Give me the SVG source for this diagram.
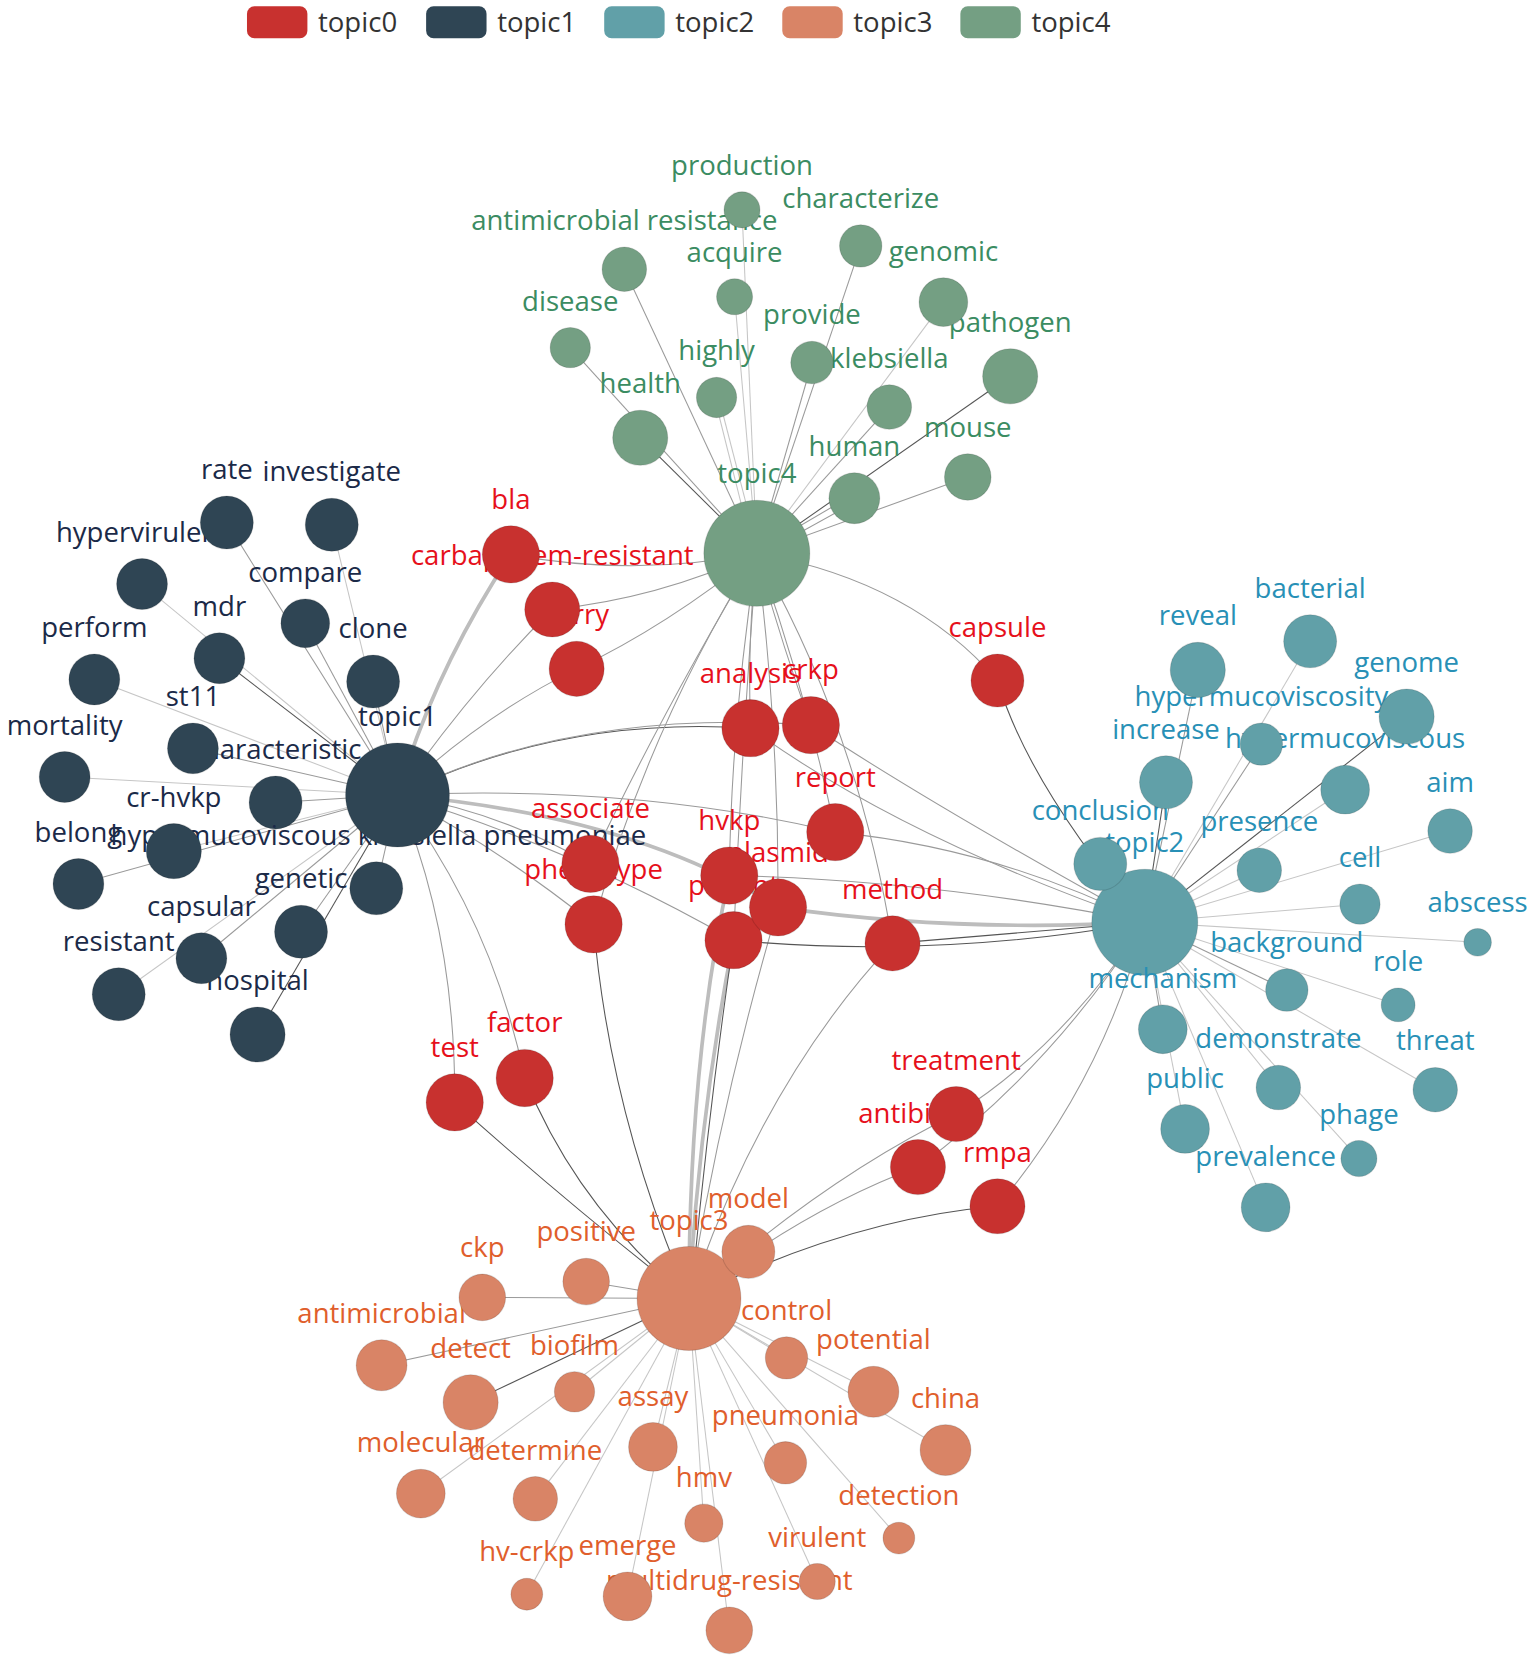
<svg xmlns="http://www.w3.org/2000/svg" width="1535" height="1662" viewBox="0 0 1535 1662">
<style>
text{font-family:"Open Sans","Noto Sans","DejaVu Sans",sans-serif;font-size:26px;text-anchor:middle}
.lg text{text-anchor:start;fill:#333}
.e path{fill:none;stroke:#9a9a9a;stroke-width:1}
.e .l{stroke:#c6c6c6}
.e .d{stroke:#555}
.e .t{stroke:#bdbdbd;stroke-width:3.5}
circle{stroke:rgba(0,0,0,0.13);stroke-width:1}
.c0 circle{fill:#c8312f}.c0 text{fill:#e6101b}
.c1 circle{fill:#2f4554}.c1 text{fill:#1b2a48}
.c2 circle{fill:#61a0a8}.c2 text{fill:#2890b6}
.c3 circle{fill:#d98466}.c3 text{fill:#e05e2c}
.c4 circle{fill:#749f83}.c4 text{fill:#3b8c62}
</style>
<rect width="1535" height="1662" fill="#fff"/>
<g transform="scale(1.06)">
<g class="lg" id="legend">
<rect x="233" y="6" width="57" height="30" rx="7" fill="#c8312f"/><text x="300" y="30">topic0</text>
<rect x="402" y="6" width="57" height="30" rx="7" fill="#2f4554"/><text x="469" y="30">topic1</text>
<rect x="570" y="6" width="57" height="30" rx="7" fill="#61a0a8"/><text x="637" y="30">topic2</text>
<rect x="738" y="6" width="57" height="30" rx="7" fill="#d98466"/><text x="805" y="30">topic3</text>
<rect x="906" y="6" width="57" height="30" rx="7" fill="#749f83"/><text x="973" y="30">topic4</text>
</g>
<g class="e" id="connectors">
<!-- topic4 -->
<path class="l" d="M714,522 L700,198"/>
<path class="l" d="M714,522 L693,280"/>
<path d="M714,522 L812,232"/>
<path d="M714,522 L589,254"/>
<path class="l" d="M714,522 L890,285"/>
<path d="M714,522 L538,328"/>
<path d="M714,522 L766,342"/>
<path class="d" d="M714,522 L953,355"/>
<path class="l" d="M716,522 L678,375"/>
<path class="l" d="M711,522 L674,375"/>
<path d="M714,522 L839,384"/>
<path class="d" d="M714,522 L604,413"/>
<path d="M714,522 L913,450"/>
<path d="M714,520 L806,466"/>
<path d="M714,525 L806,474"/>
<!-- topic1 -->
<path d="M375,750 L214,493"/>
<path class="l" d="M375,750 L313,495"/>
<path class="l" d="M375,750 L134,551"/>
<path d="M375,750 L288,588"/>
<path class="d" d="M375,750 L207,621"/>
<path d="M375,750 L352,643"/>
<path class="l" d="M375,750 L89,641"/>
<path d="M375,750 L182,706"/>
<path class="l" d="M375,750 L61,733"/>
<path d="M375,750 L260,757"/>
<path class="l" d="M375,750 L164,803"/>
<path d="M375,750 L74,834"/>
<path d="M375,750 L355,838"/>
<path d="M375,750 L190,904"/>
<path d="M375,750 L284,879"/>
<path class="l" d="M375,750 L112,938"/>
<path class="d" d="M375,750 L243,976"/>
<!-- topic2 -->
<path d="M1080,870 L1130,632"/>
<path class="l" d="M1080,870 L1236,605"/>
<path class="d" d="M1080,870 L1327,676"/>
<path d="M1080,870 L1190,702"/>
<path class="d" d="M1080,870 L1100,738"/>
<path class="l" d="M1080,870 L1269,745"/>
<path d="M1080,870 L1038,815"/>
<path class="l" d="M1080,870 L1188,821"/>
<path class="l" d="M1080,870 L1368,784"/>
<path class="l" d="M1080,870 L1283,853"/>
<path class="l" d="M1080,870 L1394,889"/>
<path d="M1080,870 L1214,934"/>
<path class="l" d="M1080,870 L1319,948"/>
<path d="M1080,870 L1097,971"/>
<path class="l" d="M1080,870 L1206,1026"/>
<path class="l" d="M1080,870 L1354,1028"/>
<path class="l" d="M1080,870 L1118,1065"/>
<path class="l" d="M1080,870 L1282,1093"/>
<path class="l" d="M1080,870 L1194,1139"/>
<!-- topic3 -->
<path d="M650,1225 L706,1181"/>
<path d="M650,1225 L553,1209"/>
<path d="M650,1225 L455,1224"/>
<path d="M650,1225 L360,1288"/>
<path class="d" d="M650,1225 L444,1323"/>
<path class="l" d="M650,1225 L542,1313"/>
<path class="l" d="M650,1225 L742,1281"/>
<path class="l" d="M650,1225 L824,1313"/>
<path class="l" d="M650,1225 L892,1368"/>
<path class="l" d="M650,1225 L616,1365"/>
<path class="l" d="M650,1225 L741,1380"/>
<path class="l" d="M650,1225 L397,1409"/>
<path class="l" d="M650,1225 L505,1414"/>
<path class="l" d="M650,1225 L664,1437"/>
<path class="l" d="M650,1225 L848,1451"/>
<path class="l" d="M650,1225 L771,1492"/>
<path class="l" d="M650,1225 L592,1506"/>
<path class="l" d="M650,1225 L497,1504"/>
<path class="l" d="M650,1225 L688,1538"/>
<!-- topic0 cross links -->
<path class="t" d="M375,750 Q410,632 482,523"/>
<path d="M482,523 Q598,545 714,522"/>
<path d="M521,575 Q620,565 714,522"/>
<path d="M521,575 Q445,650 375,750"/>
<path d="M544,631 Q630,590 714,522"/>
<path d="M544,631 Q455,675 375,750"/>
<path d="M714,522 Q860,548 941,642"/>
<path class="d" d="M941,642 Q970,740 1080,870"/>
<path class="d" d="M375,750 Q530,675 708,687"/>
<path d="M375,750 Q540,668 765,684"/>
<path d="M708,687 Q705,600 714,522"/>
<path d="M765,684 Q735,600 714,522"/>
<path d="M708,687 Q850,790 1080,870"/>
<path d="M765,684 Q880,760 1080,870"/>
<path d="M714,522 Q760,650 788,785"/>
<path d="M788,785 Q940,800 1080,870"/>
<path d="M375,750 Q600,740 788,785"/>
<path d="M375,750 Q470,765 557,815"/>
<path d="M557,815 Q620,680 714,522"/>
<path d="M375,750 Q470,800 560,872"/>
<path d="M560,872 Q610,690 714,522"/>
<path class="d" d="M560,872 Q575,1050 650,1225"/>
<path d="M714,522 Q690,680 688,826"/>
<path class="t" d="M688,826 Q650,1000 650,1225"/>
<path d="M688,826 Q880,830 1080,870"/>
<path d="M714,522 Q735,690 734,856"/>
<path class="t" d="M375,750 Q600,770 734,856"/>
<path class="t" d="M734,856 Q900,880 1080,870"/>
<path d="M734,856 Q680,1040 650,1225"/>
<path class="t" d="M692,887 Q660,1050 650,1225"/>
<path class="d" d="M692,887 Q668,1050 652,1225"/>
<path class="d" d="M692,887 Q880,905 1080,870"/>
<path d="M375,750 Q540,800 692,887"/>
<path d="M714,522 Q700,700 692,887"/>
<path class="d" d="M842,890 Q960,880 1080,870"/>
<path d="M714,522 Q810,690 842,890"/>
<path d="M842,890 Q720,1020 650,1225"/>
<path d="M375,750 Q430,880 429,1040"/>
<path class="d" d="M429,1040 Q535,1135 650,1225"/>
<path d="M375,750 Q465,870 495,1017"/>
<path class="d" d="M495,1017 Q545,1140 650,1225"/>
<path d="M902,1051 Q1000,990 1080,870"/>
<path d="M650,1225 Q780,1110 902,1051"/>
<path d="M866,1101 Q990,1010 1080,870"/>
<path d="M650,1225 Q760,1140 866,1101"/>
<path d="M941,1138 Q1040,1020 1080,870"/>
<path class="d" d="M650,1225 Q800,1150 941,1138"/>
</g>
<!-- topic4 nodes -->
<g id="n-antimicrobial-resistance" class="c4"><text x="589" y="217">antimicrobial resistance</text><circle cx="589" cy="254" r="21"/></g>
<g id="n-production" class="c4"><text x="700" y="165">production</text><circle cx="700" cy="198" r="17"/></g>
<g id="n-pathogen" class="c4"><text x="953" y="313">pathogen</text><circle cx="953" cy="355" r="26"/></g>
<g id="n-genomic" class="c4"><text x="890" y="246">genomic</text><circle cx="890" cy="285" r="23"/></g>
<g id="n-klebsiella" class="c4"><text x="839" y="347">klebsiella</text><circle cx="839" cy="384" r="21"/></g>
<g id="n-provide" class="c4"><text x="766" y="306">provide</text><circle cx="766" cy="342" r="20"/></g>
<g id="n-characterize" class="c4"><text x="812" y="196">characterize</text><circle cx="812" cy="232" r="20"/></g>
<g id="n-acquire" class="c4"><text x="693" y="247">acquire</text><circle cx="693" cy="280" r="17"/></g>
<g id="n-disease" class="c4"><text x="538" y="293">disease</text><circle cx="538" cy="328" r="19"/></g>
<g id="n-highly" class="c4"><text x="676" y="340">highly</text><circle cx="676" cy="375" r="19"/></g>
<g id="n-health" class="c4"><text x="604" y="371">health</text><circle cx="604" cy="413" r="26"/></g>
<g id="n-mouse" class="c4"><text x="913" y="412">mouse</text><circle cx="913" cy="450" r="22"/></g>
<g id="n-human" class="c4"><text x="806" y="430">human</text><circle cx="806" cy="470" r="24"/></g>
<g id="n-topic4" class="c4"><text x="714" y="456">topic4</text><circle cx="714" cy="522" r="50"/></g>
<!-- topic1 nodes -->
<g id="n-belong" class="c1"><text x="74" y="794">belong</text><circle cx="74" cy="834" r="24"/></g>
<g id="n-hypervirulent" class="c1"><text x="134" y="511">hypervirulent</text><circle cx="134" cy="551" r="24"/></g>
<g id="n-rate" class="c1"><text x="214" y="452">rate</text><circle cx="214" cy="493" r="25"/></g>
<g id="n-investigate" class="c1"><text x="313" y="454">investigate</text><circle cx="313" cy="495" r="25"/></g>
<g id="n-compare" class="c1"><text x="288" y="549">compare</text><circle cx="288" cy="588" r="23"/></g>
<g id="n-mdr" class="c1"><text x="207" y="581">mdr</text><circle cx="207" cy="621" r="24"/></g>
<g id="n-perform" class="c1"><text x="89" y="601">perform</text><circle cx="89" cy="641" r="24"/></g>
<g id="n-mortality" class="c1"><text x="61" y="693">mortality</text><circle cx="61" cy="733" r="24"/></g>
<g id="n-characteristic" class="c1"><text x="260" y="716">characteristic</text><circle cx="260" cy="757" r="25"/></g>
<g id="n-st11" class="c1"><text x="182" y="666">st11</text><circle cx="182" cy="706" r="24"/></g>
<g id="n-genetic" class="c1"><text x="284" y="838">genetic</text><circle cx="284" cy="879" r="25"/></g>
<g id="n-hypermucoviscous-klebsiella-pneumoniae" class="c1"><text x="357" y="797">hypermucoviscous klebsiella pneumoniae</text><circle cx="355" cy="838" r="25"/></g>
<g id="n-cr-hvkp" class="c1"><text x="164" y="761">cr-hvkp</text><circle cx="164" cy="803" r="26"/></g>
<g id="n-topic1" class="c1"><text x="375" y="685">topic1</text><circle cx="375" cy="750" r="49"/></g>
<g id="n-clone" class="c1"><text x="352" y="602">clone</text><circle cx="352" cy="643" r="25"/></g>
<g id="n-hospital" class="c1"><text x="243" y="934">hospital</text><circle cx="243" cy="976" r="26"/></g>
<g id="n-capsular" class="c1"><text x="190" y="864">capsular</text><circle cx="190" cy="904" r="24"/></g>
<g id="n-resistant" class="c1"><text x="112" y="897">resistant</text><circle cx="112" cy="938" r="25"/></g>
<!-- topic2 nodes -->
<g id="n-topic2" class="c2"><text x="1080" y="804">topic2</text><circle cx="1080" cy="870" r="50"/></g>
<g id="n-conclusion" class="c2"><text x="1038" y="774">conclusion</text><circle cx="1038" cy="815" r="25"/></g>
<g id="n-increase" class="c2"><text x="1100" y="697">increase</text><circle cx="1100" cy="738" r="25"/></g>
<g id="n-hypermucoviscous" class="c2"><text x="1269" y="706">hypermucoviscous</text><circle cx="1269" cy="745" r="23"/></g>
<g id="n-hypermucoviscosity" class="c2"><text x="1190" y="666">hypermucoviscosity</text><circle cx="1190" cy="702" r="20"/></g>
<g id="n-reveal" class="c2"><text x="1130" y="590">reveal</text><circle cx="1130" cy="632" r="26"/></g>
<g id="n-genome" class="c2"><text x="1327" y="634">genome</text><circle cx="1327" cy="676" r="26"/></g>
<g id="n-bacterial" class="c2"><text x="1236" y="564">bacterial</text><circle cx="1236" cy="605" r="25"/></g>
<g id="n-presence" class="c2"><text x="1188" y="784">presence</text><circle cx="1188" cy="821" r="21"/></g>
<g id="n-aim" class="c2"><text x="1368" y="747">aim</text><circle cx="1368" cy="784" r="21"/></g>
<g id="n-cell" class="c2"><text x="1283" y="818">cell</text><circle cx="1283" cy="853" r="19"/></g>
<g id="n-abscess" class="c2"><text x="1394" y="860">abscess</text><circle cx="1394" cy="889" r="13"/></g>
<g id="n-background" class="c2"><text x="1214" y="898">background</text><circle cx="1214" cy="934" r="20"/></g>
<g id="n-role" class="c2"><text x="1319" y="916">role</text><circle cx="1319" cy="948" r="16"/></g>
<g id="n-mechanism" class="c2"><text x="1097" y="932">mechanism</text><circle cx="1097" cy="971" r="23"/></g>
<g id="n-demonstrate" class="c2"><text x="1206" y="989">demonstrate</text><circle cx="1206" cy="1026" r="21"/></g>
<g id="n-threat" class="c2"><text x="1354" y="991">threat</text><circle cx="1354" cy="1028" r="21"/></g>
<g id="n-prevalence" class="c2"><text x="1194" y="1100">prevalence</text><circle cx="1194" cy="1139" r="23"/></g>
<g id="n-public" class="c2"><text x="1118" y="1026">public</text><circle cx="1118" cy="1065" r="23"/></g>
<g id="n-phage" class="c2"><text x="1282" y="1060">phage</text><circle cx="1282" cy="1093" r="17"/></g>
<!-- topic3 nodes -->
<g id="n-antimicrobial" class="c3"><text x="360" y="1248">antimicrobial</text><circle cx="360" cy="1288" r="24"/></g>
<g id="n-ckp" class="c3"><text x="455" y="1186">ckp</text><circle cx="455" cy="1224" r="22"/></g>
<g id="n-pneumonia" class="c3"><text x="741" y="1344">pneumonia</text><circle cx="741" cy="1380" r="20"/></g>
<g id="n-potential" class="c3"><text x="824" y="1273">potential</text><circle cx="824" cy="1313" r="24"/></g>
<g id="n-multidrug-resistant" class="c3"><text x="688" y="1500">multidrug-resistant</text><circle cx="688" cy="1538" r="22"/></g>
<g id="n-emerge" class="c3"><text x="592" y="1467">emerge</text><circle cx="592" cy="1506" r="23"/></g>
<g id="n-virulent" class="c3"><text x="771" y="1459">virulent</text><circle cx="771" cy="1492" r="17"/></g>
<g id="n-topic3" class="c3"><text x="650" y="1160">topic3</text><circle cx="650" cy="1225" r="49"/></g>
<g id="n-model" class="c3"><text x="706" y="1140">model</text><circle cx="706" cy="1181" r="25"/></g>
<g id="n-positive" class="c3"><text x="553" y="1171">positive</text><circle cx="553" cy="1209" r="22"/></g>
<g id="n-detect" class="c3"><text x="444" y="1281">detect</text><circle cx="444" cy="1323" r="26"/></g>
<g id="n-biofilm" class="c3"><text x="542" y="1278">biofilm</text><circle cx="542" cy="1313" r="19"/></g>
<g id="n-control" class="c3"><text x="742" y="1245">control</text><circle cx="742" cy="1281" r="20"/></g>
<g id="n-china" class="c3"><text x="892" y="1328">china</text><circle cx="892" cy="1368" r="24"/></g>
<g id="n-assay" class="c3"><text x="616" y="1326">assay</text><circle cx="616" cy="1365" r="23"/></g>
<g id="n-molecular" class="c3"><text x="397" y="1370">molecular</text><circle cx="397" cy="1409" r="23"/></g>
<g id="n-determine" class="c3"><text x="505" y="1377">determine</text><circle cx="505" cy="1414" r="21"/></g>
<g id="n-hmv" class="c3"><text x="664" y="1403">hmv</text><circle cx="664" cy="1437" r="18"/></g>
<g id="n-detection" class="c3"><text x="848" y="1420">detection</text><circle cx="848" cy="1451" r="15"/></g>
<g id="n-hv-crkp" class="c3"><text x="497" y="1473">hv-crkp</text><circle cx="497" cy="1504" r="15"/></g>
<!-- topic0 nodes -->
<g id="n-carry" class="c0"><text x="544" y="589">carry</text><circle cx="544" cy="631" r="26"/></g>
<g id="n-carbapenem-resistant" class="c0"><text x="521" y="533">carbapenem-resistant</text><circle cx="521" cy="575" r="26"/></g>
<g id="n-bla" class="c0"><text x="482" y="480">bla</text><circle cx="482" cy="523" r="27"/></g>
<g id="n-capsule" class="c0"><text x="941" y="601">capsule</text><circle cx="941" cy="642" r="25"/></g>
<g id="n-analysis" class="c0"><text x="708" y="644">analysis</text><circle cx="708" cy="687" r="27"/></g>
<g id="n-crkp" class="c0"><text x="765" y="641">crkp</text><circle cx="765" cy="684" r="27"/></g>
<g id="n-phenotype" class="c0"><text x="560" y="829">phenotype</text><circle cx="560" cy="872" r="27"/></g>
<g id="n-associate" class="c0"><text x="557" y="772">associate</text><circle cx="557" cy="815" r="27"/></g>
<g id="n-patient" class="c0"><text x="692" y="844">patient</text><circle cx="692" cy="887" r="27"/></g>
<g id="n-plasmid" class="c0"><text x="734" y="813">plasmid</text><circle cx="734" cy="856" r="27"/></g>
<g id="n-hvkp" class="c0"><text x="688" y="783">hvkp</text><circle cx="688" cy="826" r="27"/></g>
<g id="n-report" class="c0"><text x="788" y="742">report</text><circle cx="788" cy="785" r="27"/></g>
<g id="n-method" class="c0"><text x="842" y="848">method</text><circle cx="842" cy="890" r="26"/></g>
<g id="n-test" class="c0"><text x="429" y="997">test</text><circle cx="429" cy="1040" r="27"/></g>
<g id="n-factor" class="c0"><text x="495" y="974">factor</text><circle cx="495" cy="1017" r="27"/></g>
<g id="n-antibiotic" class="c0"><text x="866" y="1059">antibiotic</text><circle cx="866" cy="1101" r="26"/></g>
<g id="n-treatment" class="c0"><text x="902" y="1009">treatment</text><circle cx="902" cy="1051" r="26"/></g>
<g id="n-rmpa" class="c0"><text x="941" y="1096">rmpa</text><circle cx="941" cy="1138" r="26"/></g>
</g>
</svg>
